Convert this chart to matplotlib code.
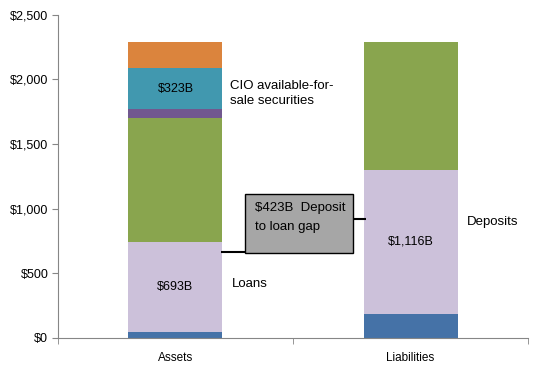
import matplotlib.pyplot as plt
import matplotlib.patches as mpatches
import numpy as np

plt.rcParams['font.family'] = ['Liberation Sans', 'DejaVu Sans']

#%% data ($B)
categories = ['Assets', 'Liabilities']
seg_blue = [46, 186]
seg_lavender = [693, 1116]
seg_green = [963, 988]
seg_purple = [65, 0]
seg_teal = [323, 0]
seg_orange = [200, 0]

yticks = [0, 500, 1000, 1500, 2000, 2500]
ytick_labels = ['$0', '$500', '$1,000', '$1,500', '$2,000', '$2,500']

segments = [seg_blue, seg_lavender, seg_green, seg_purple, seg_teal, seg_orange]
colors = ['#4572a7', '#ccc1da', '#89a54e', '#71588f', '#4198af', '#db843d']

#%% plot
fig = plt.figure(figsize=(5.43, 3.74), dpi=100)
ax = fig.add_axes([0.1068, 0.0963, 0.8656, 0.8644])

x = np.arange(len(categories))
bottom = np.zeros(len(categories))
for seg, c in zip(segments, colors):
    seg = np.asarray(seg, dtype=float)
    ax.bar(x, seg, 0.4, bottom=bottom, color=c, linewidth=0)
    bottom += seg

ax.set_xlim(-0.5, 1.5)
ax.set_ylim(0, 2500)
ax.set_yticks(yticks)
ax.set_yticklabels(ytick_labels, fontsize=9)
ax.set_xticks(x)
ax.set_xticklabels(categories, fontsize=8.5)
ax.tick_params(axis='x', which='major', length=0, pad=10)
ax.set_xticks([-0.5, 0.5, 1.5], minor=True)
ax.tick_params(axis='x', which='minor', length=4, color='#868686')
ax.tick_params(axis='y', length=4, color='#868686', pad=3)
for s in ['top', 'right']:
    ax.spines[s].set_visible(False)
for s in ['left', 'bottom']:
    ax.spines[s].set_color('#868686')

# segment labels
cum_a = np.cumsum([s[0] for s in segments])
ax.text(0, cum_a[3] + seg_teal[0] / 2, '$323B', ha='center', va='center', fontsize=9)
ax.text(0, 395, '$693B', ha='center', va='center', fontsize=9)
ax.text(1, 745, '$1,116B', ha='center', va='center', fontsize=9)

ax.text(0.23, 1890, 'CIO available-for-\nsale securities', ha='left', va='center',
        fontsize=9.5, linespacing=1.25)
ax.text(0.24, 420, 'Loans', ha='left', va='center', fontsize=9.5)
ax.text(1.24, 900, 'Deposits', ha='left', va='center', fontsize=9.5)

# gap box
ax.plot([0.194, 0.296], [667, 667], color='black', lw=1.5, solid_capstyle='butt')
ax.plot([0.755, 0.811], [920, 920], color='black', lw=1.5, solid_capstyle='butt')
ax.add_patch(mpatches.Rectangle((0.296, 657), 0.459, 456, facecolor='#a6a6a6',
                                edgecolor='black', lw=1, zorder=3))
ax.text(0.338, 1003, '$423B  Deposit', ha='left', va='center', fontsize=9.5, zorder=4)
ax.text(0.338, 861, 'to loan gap', ha='left', va='center', fontsize=9.5, zorder=4)

plt.savefig('out.png', dpi=100)
